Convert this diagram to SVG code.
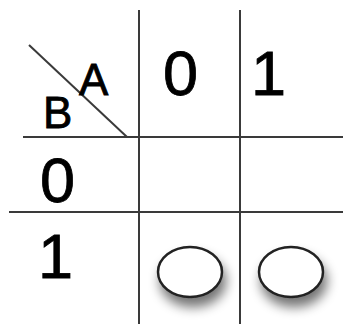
<svg xmlns="http://www.w3.org/2000/svg" width="343" height="324" viewBox="0 0 343 324">
<style>
.ln{stroke:#3a3a3a;stroke-width:2;fill:none}
.t{font-family:"Liberation Sans",Arial,sans-serif;fill:#000;stroke:#000;stroke-width:0.8}
.big{font-size:63px}
.lab{font-size:44px}
.oval{fill:#fff;stroke:#222;stroke-width:2.5;filter:url(#sh)}
</style>
<defs>
<filter id="sh" x="-50%" y="-50%" width="200%" height="200%">
<feGaussianBlur in="SourceAlpha" stdDeviation="6"/>
<feOffset dx="3" dy="9" result="b"/>
<feComponentTransfer><feFuncA type="linear" slope="0.55"/></feComponentTransfer>
<feMerge><feMergeNode/><feMergeNode in="SourceGraphic"/></feMerge>
</filter>
</defs>
<g id="connectors">
<line class="ln" x1="139" y1="10" x2="139" y2="324"/>
<line class="ln" x1="240" y1="10" x2="240" y2="324"/>
<line class="ln" x1="23" y1="137" x2="343" y2="137"/>
<line class="ln" x1="9" y1="212" x2="343" y2="212"/>
<line class="ln" x1="29" y1="45" x2="127" y2="137"/>
</g>
<g id="header">
<text class="t lab" x="79" y="95">A</text>
<text class="t lab" x="43" y="128">B</text>
<text class="t big" x="163" y="95">0</text>
<text class="t big" x="251" y="95">1</text>
<text class="t big" x="40" y="202">0</text>
<text class="t big" x="38" y="278">1</text>
</g>
<g id="oval1"><ellipse class="oval" cx="190" cy="272" rx="32" ry="25"/></g>
<g id="oval2"><ellipse class="oval" cx="291" cy="272" rx="32" ry="25"/></g>
</svg>
